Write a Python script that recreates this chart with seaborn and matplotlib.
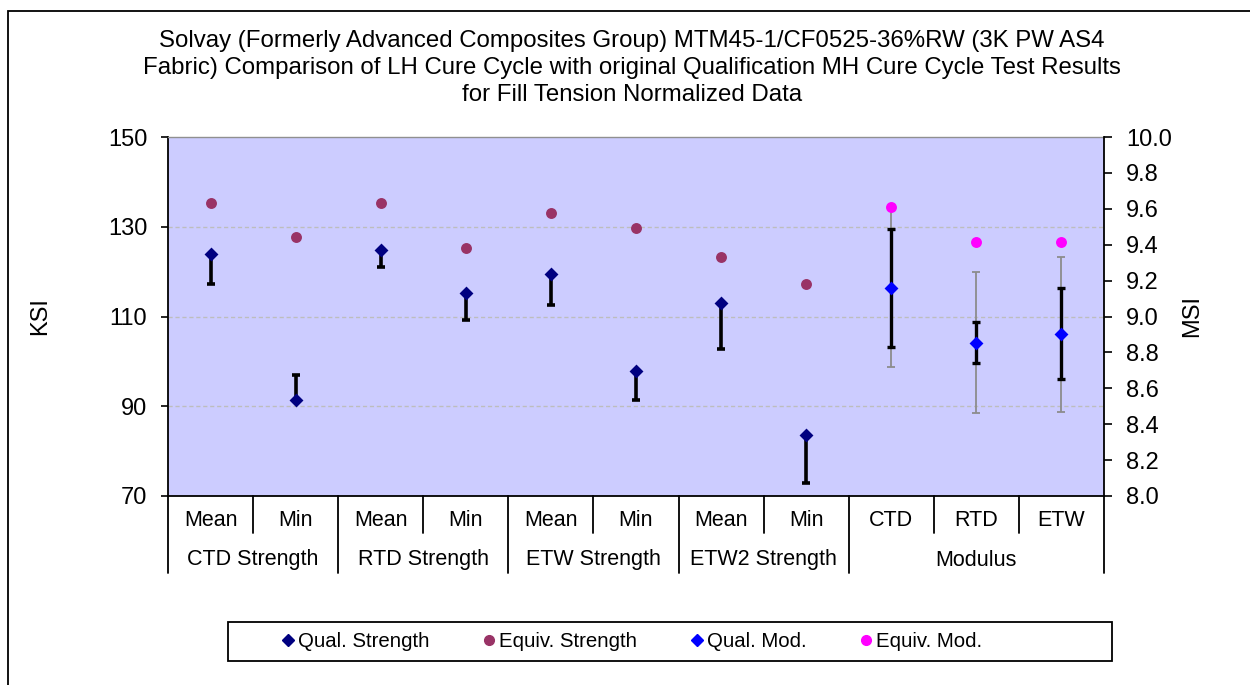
import numpy as np
import pandas as pd
import matplotlib
matplotlib.use("Agg")
import matplotlib.pyplot as plt
import seaborn as sns
from matplotlib.patches import Rectangle
from matplotlib.lines import Line2D
from matplotlib.ticker import FormatStrFormatter

# ---------------- data ----------------
strength_tests = ["Mean", "Min", "Mean", "Min", "Mean", "Min", "Mean", "Min"]
strength_groups = ["CTD Strength", "RTD Strength", "ETW Strength", "ETW2 Strength"]
modulus_tests = ["CTD", "RTD", "ETW"]
modulus_group = "Modulus"

qual_strength = [123.9, 91.3, 124.8, 115.3, 119.5, 97.8, 113.0, 83.7]
qual_strength_bar_end = [117.2, 97.0, 121.0, 109.2, 112.6, 91.3, 102.8, 72.9]
equiv_strength = [135.4, 127.8, 135.4, 125.3, 133.1, 129.8, 123.2, 117.2]

qual_mod = [9.16, 8.85, 8.90]
qual_mod_low = [8.83, 8.74, 8.65]
qual_mod_high = [9.49, 8.97, 9.16]
range_mod_low = [8.72, 8.46, 8.47]
range_mod_high = [9.60, 9.25, 9.33]
equiv_mod = [9.61, 9.415, 9.415]

title = ("Solvay (Formerly Advanced Composites Group) MTM45-1/CF0525-36%RW (3K PW AS4\n"
         "Fabric) Comparison of LH Cure Cycle with original Qualification MH Cure Cycle Test Results\n"
         "for Fill Tension Normalized Data")

# ---------------- style ----------------
sns.set_style("white")
plt.rcParams["font.family"] = ["Liberation Sans", "DejaVu Sans"]
plt.rcParams["text.color"] = "black"
plt.rcParams["axes.labelcolor"] = "black"
plt.rcParams["xtick.color"] = "black"
plt.rcParams["ytick.color"] = "black"

W, H = 1250, 685
fig = plt.figure(figsize=(W / 100, H / 100), dpi=100)

def fx(px):
    return px / W

def fy(py):
    return 1 - py / H

ax1 = fig.add_axes([fx(168), fy(496), fx(1104) - fx(168), fy(137) - fy(496)])
ax1.set_facecolor("#CCCCFF")

NAVY, PLUM, BLUE, MAGENTA = "#000080", "#993366", "#0000FF", "#FF00FF"

xs = np.arange(len(strength_tests))
xm = np.arange(len(strength_tests), len(strength_tests) + len(modulus_tests))

df_s = pd.DataFrame({"x": xs, "qual": qual_strength, "equiv": equiv_strength,
                     "end": qual_strength_bar_end})
df_m = pd.DataFrame({"x": xm, "qual": qual_mod, "equiv": equiv_mod,
                     "lo": qual_mod_low, "hi": qual_mod_high,
                     "rlo": range_mod_low, "rhi": range_mod_high})

# grid
for yv in [90, 110, 130]:
    ax1.axhline(yv, color="#BDBDBD", lw=1, ls=(0, (3, 2)), zorder=1)

# strength error bars (one-sided)
lo = np.clip(df_s["qual"] - df_s["end"], 0, None)
hi = np.clip(df_s["end"] - df_s["qual"], 0, None)
ax1.errorbar(df_s["x"], df_s["qual"], yerr=[lo, hi], fmt="none", ecolor="black",
             elinewidth=2.6, capsize=3.2, capthick=2.6, zorder=3)

sns.scatterplot(data=df_s, x="x", y="equiv", ax=ax1, marker="o", s=62,
                color=PLUM, edgecolor=PLUM, linewidth=0, zorder=4, legend=False)
sns.scatterplot(data=df_s, x="x", y="qual", ax=ax1, marker="D", s=50,
                color=NAVY, edgecolor=NAVY, linewidth=0, zorder=5, legend=False)

ax1.set_xlim(-0.5, 10.5)
ax1.set_ylim(70, 150)
ax1.set_yticks([70, 90, 110, 130, 150])
ax1.set_xticks([])
ax1.set_xlabel("")
ax1.set_ylabel("")
ax1.tick_params(axis="y", direction="out", length=5, width=1.2, pad=10,
                labelsize=17, left=True, colors="black")
for s in ["left", "bottom"]:
    ax1.spines[s].set_color("black")
    ax1.spines[s].set_linewidth(1.3)
ax1.spines["top"].set_color("#909090")
ax1.spines["top"].set_linewidth(1)
ax1.spines["right"].set_visible(False)

# modulus on right axis
ax2 = ax1.twinx()
ax2.errorbar(df_m["x"], df_m["qual"],
             yerr=[df_m["qual"] - df_m["rlo"], df_m["rhi"] - df_m["qual"]],
             fmt="none", ecolor="#8C8C8C", elinewidth=1.3, capsize=3.2, capthick=1.3, zorder=2)
ax2.errorbar(df_m["x"], df_m["qual"],
             yerr=[df_m["qual"] - df_m["lo"], df_m["hi"] - df_m["qual"]],
             fmt="none", ecolor="black", elinewidth=2.4, capsize=3.2, capthick=2.4, zorder=3)
sns.scatterplot(data=df_m, x="x", y="equiv", ax=ax2, marker="o", s=62,
                color=MAGENTA, edgecolor=MAGENTA, linewidth=0, zorder=4, legend=False)
sns.scatterplot(data=df_m, x="x", y="qual", ax=ax2, marker="D", s=50,
                color=BLUE, edgecolor=BLUE, linewidth=0, zorder=5, legend=False)
ax2.set_ylim(8, 10)
ax2.set_yticks(np.round(np.arange(8, 10.01, 0.2), 1))
ax2.yaxis.set_major_formatter(FormatStrFormatter("%.1f"))
ax2.set_xlim(-0.5, 10.5)
ax2.set_xlabel("")
ax2.set_ylabel("")
ax2.tick_params(axis="y", direction="out", length=6, width=1.2, pad=10,
                labelsize=17, right=True, colors="black")
for s in ["left", "top", "bottom"]:
    ax2.spines[s].set_visible(False)
ax2.spines["right"].set_color("black")
ax2.spines["right"].set_linewidth(1.3)

# two-level categorical x-axis
trans = ax1.get_xaxis_transform()
ph = 496 - 137
row1 = -25 / ph
row2 = -64 / ph
minor_end = -37 / ph
major_end = -77 / ph
all_tests = strength_tests + modulus_tests
for i, lab in enumerate(all_tests):
    ax1.text(i, row1, lab, transform=trans, ha="center", va="center", fontsize=15.5,
             color="black", clip_on=False)
group_labels = strength_groups + [modulus_group]
group_centers = [0.5, 2.5, 4.5, 6.5, 9.0]
for c, lab in zip(group_centers, group_labels):
    ax1.text(c, row2, lab, transform=trans, ha="center", va="center", fontsize=15.5,
             color="black", clip_on=False)
major_bounds = [0, 2, 4, 6, 8, 11]
for k in range(12):
    end = major_end if k in major_bounds else minor_end
    ax1.plot([k - 0.5, k - 0.5], [0, end], transform=trans, color="black", lw=1.3,
             clip_on=False, zorder=6)

# axis titles
fig.text(fx(40), fy(316), "KSI", rotation=90, ha="center", va="center", fontsize=17)
fig.text(fx(1192), fy(316), "MSI", rotation=90, ha="center", va="center", fontsize=17)

# title
fig.text(fx(632), fy(68), title, ha="center", va="center", fontsize=17.3,
         linespacing=1.28)

# legend
handles = [
    Line2D([], [], marker="D", ls="none", color=NAVY, markersize=6),
    Line2D([], [], marker="o", ls="none", color=PLUM, markersize=7),
    Line2D([], [], marker="D", ls="none", color=BLUE, markersize=6),
    Line2D([], [], marker="o", ls="none", color=MAGENTA, markersize=7),
]
labels = ["Qual. Strength", "Equiv. Strength", "Qual. Mod.", "Equiv. Mod."]
fig.legend(handles, labels, loc="center left", bbox_to_anchor=(fx(274), fy(641.5)),
           frameon=False, ncol=4, handlelength=0.6, handletextpad=0.2,
           columnspacing=2.6, fontsize=14.7, borderaxespad=0)
fig.patches.append(Rectangle((fx(228), fy(661)), fx(1112) - fx(228), fy(622) - fy(661),
                             transform=fig.transFigure, fill=False, ec="black", lw=1.3))

# chart frame
fig.patches.append(Rectangle((fx(7.5), fy(700)), fx(1260), fy(11) - fy(700),
                             transform=fig.transFigure, fill=False, ec="black", lw=1.3,
                             clip_on=False))

fig.savefig("out.png", dpi=100)
